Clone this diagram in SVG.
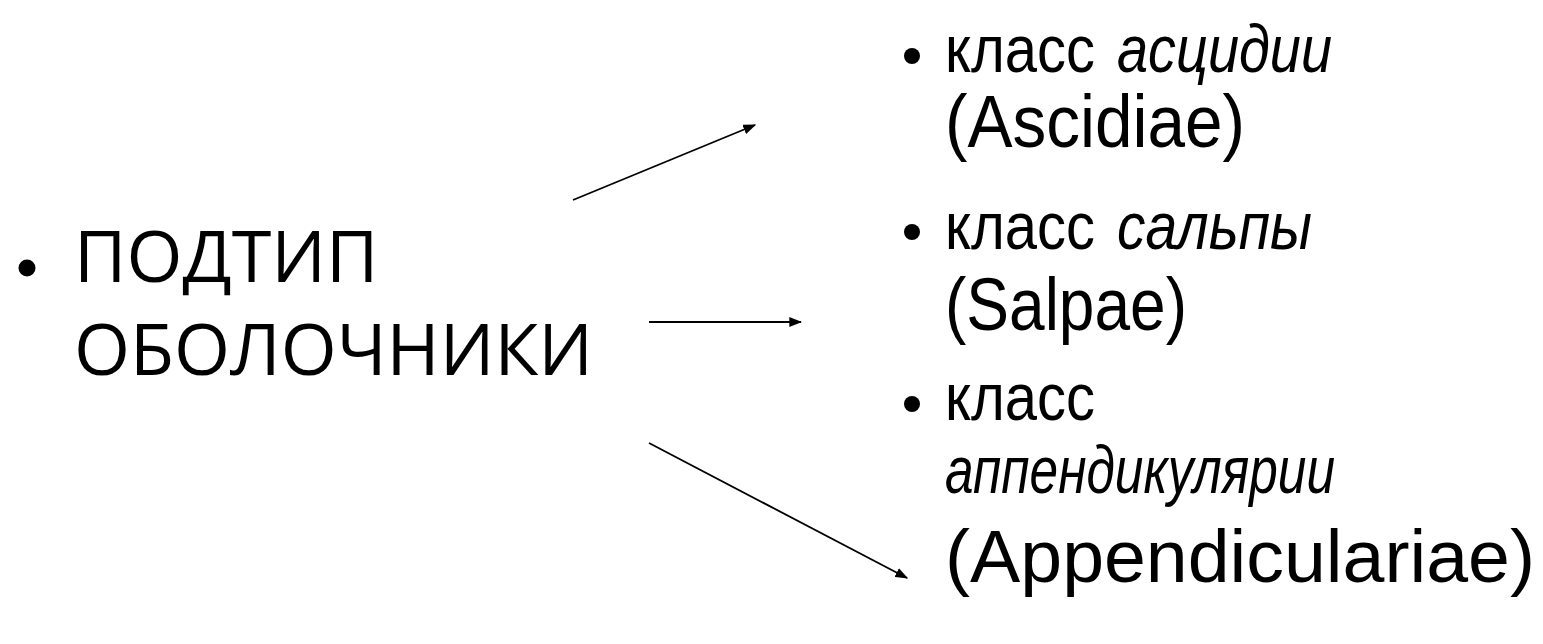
<svg xmlns="http://www.w3.org/2000/svg" width="1543" height="644" viewBox="0 0 1543 644">
<style>
.l{font-family:"Open Sans","Noto Sans",sans-serif;font-size:72px;fill:#000}
.r{font-family:"Liberation Sans",Arial,sans-serif;font-size:74px;fill:#000}
.cy{font-family:"Liberation Sans",Arial,sans-serif;font-size:66px;fill:#000}
.i{font-style:italic}
.c{stroke:#000;stroke-width:1.8;fill:none;marker-end:url(#ah)}
</style>
<defs>
<marker id="ah" viewBox="0 0 10 10" refX="9" refY="5" markerWidth="13" markerHeight="10" markerUnits="userSpaceOnUse" orient="auto" preserveAspectRatio="none">
<path d="M0,0 L10,5 L0,10 z" fill="#000"/>
</marker>
</defs>
<rect width="1543" height="644" fill="#fff"/>
<g id="root">
<circle cx="27" cy="268" r="8.5"/>
<text class="l" x="74" y="282">ПОДТИП</text>
<text class="l" x="74" y="375">ОБОЛОЧНИКИ</text>
</g>
<g id="ascidiae">
<circle cx="912" cy="56" r="8"/>
<text class="cy" x="945" y="72" textLength="150" lengthAdjust="spacingAndGlyphs">класс</text>
<text class="cy i" x="1117" y="72" textLength="215" lengthAdjust="spacingAndGlyphs">асцидии</text>
<text class="r" x="945" y="147" textLength="300" lengthAdjust="spacingAndGlyphs">(Ascidiae)</text>
</g>
<g id="salpae">
<circle cx="912" cy="232" r="8"/>
<text class="cy" x="945" y="249" textLength="150" lengthAdjust="spacingAndGlyphs">класс</text>
<text class="cy i" x="1117" y="249" textLength="195" lengthAdjust="spacingAndGlyphs">сальпы</text>
<text class="r" x="945" y="330" textLength="242" lengthAdjust="spacingAndGlyphs">(Salpae)</text>
</g>
<g id="appendiculariae">
<circle cx="912" cy="404" r="8"/>
<text class="cy" x="945" y="420" textLength="150" lengthAdjust="spacingAndGlyphs">класс</text>
<text class="cy i" x="945" y="493" textLength="390" lengthAdjust="spacingAndGlyphs">аппендикулярии</text>
<text class="r" x="945" y="582" textLength="590" lengthAdjust="spacingAndGlyphs">(Appendiculariae)</text>
</g>
<g id="connectors">
<line class="c" x1="573" y1="200" x2="755" y2="125"/>
<line class="c" x1="649" y1="322" x2="801" y2="322"/>
<line class="c" x1="649" y1="443" x2="907" y2="578"/>
</g>
</svg>
